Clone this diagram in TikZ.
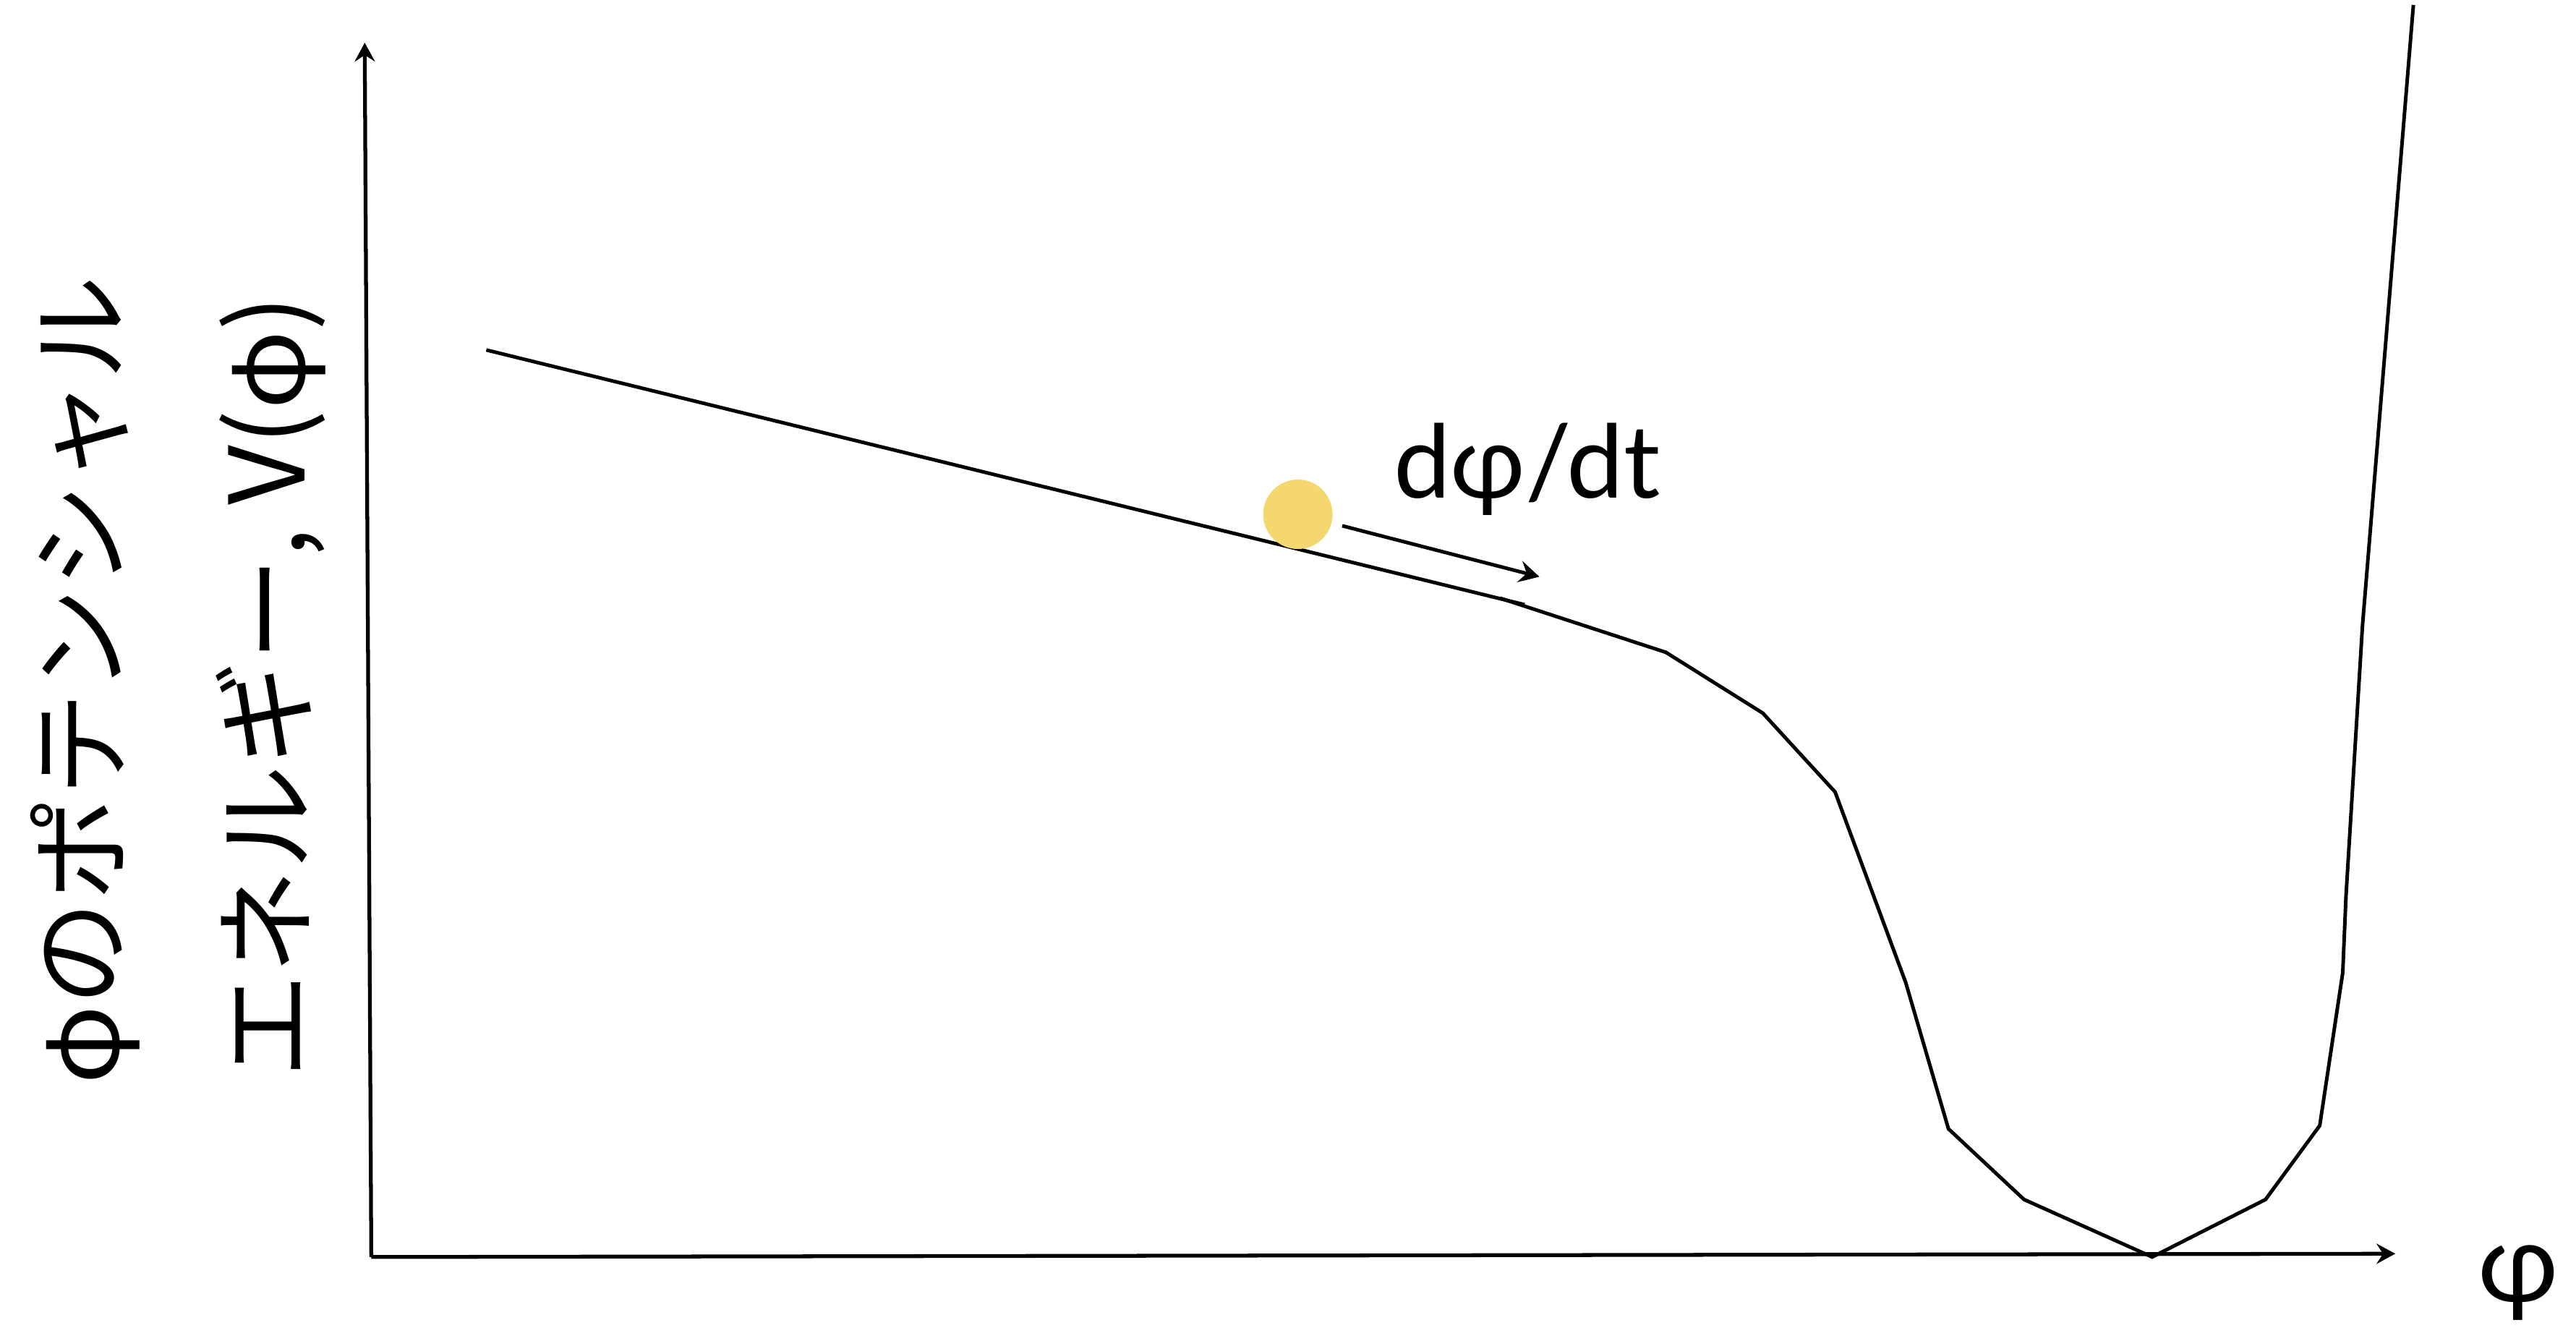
\documentclass[tikz,border=0pt]{standalone}
\usepackage{fontspec}
\setmainfont{Lato}
\newfontfamily\jpfont{Noto Sans CJK JP}
\usetikzlibrary{arrows.meta}
\definecolor{ballyellow}{RGB}{244,215,110}

\begin{document}
\begin{tikzpicture}[x=0.022717cm, y=-0.022717cm,
		axis/.style={-{Stealth[length=2.6mm, width=2.8mm, inset=0.9mm]}, line width=1.5pt},
		curve/.style={line width=1.4pt, line join=miter},
		arr/.style={-{Stealth[length=2.8mm, width=3mm, inset=1mm]}, line width=1.4pt},
		jplabel/.style={rotate=90, font=\jpfont\fontsize{41}{41}\selectfont, inner sep=0pt},
		ball/.style={circle, fill=ballyellow, minimum size=0.96cm, inner sep=0pt},
	]
	\useasboundingbox (0,0) rectangle (1568,808);

	% Axes
	\coordinate (origin) at (226,765);
	\coordinate (ytip)   at (222,26);
	\coordinate (xtip)   at (1458,763);
	\draw[axis] (origin) -- (ytip);
	\draw[axis] (origin) -- (xtip);

	% Axis labels
	\node[jplabel] (vlabel) at (52,414)  {φのポテンシャル};
	\node[jplabel] (elabel) at (165,418) {エネルギー, V(φ)};
	\node[font=\fontsize{43}{43}\selectfont, inner sep=0pt, anchor=base west] (phi) at (1508,792) {φ};

	% Potential
	\draw[curve] (296,213) -- (928,368);
	\draw[curve] (913,364) -- (1014,397) -- (1073,434) -- (1117,482) -- (1160,598)
		-- (1186,687) -- (1232,730) -- (1310,765) -- (1379,730) -- (1412,685)
		-- (1426,592) -- (1428,545) -- (1438,381) -- (1469,3);

	% Ball and its velocity
	\node[ball] (ball) at (790,313) {};
	\coordinate (vstart) at (817,320);
	\coordinate (vend)   at (937,351);
	\draw[arr] (vstart) -- (vend);
	\node[font=\fontsize{40}{40}\selectfont, inner sep=0pt, anchor=base west] (rate) at (848,303) {dφ/dt};

\end{tikzpicture}
\end{document}
